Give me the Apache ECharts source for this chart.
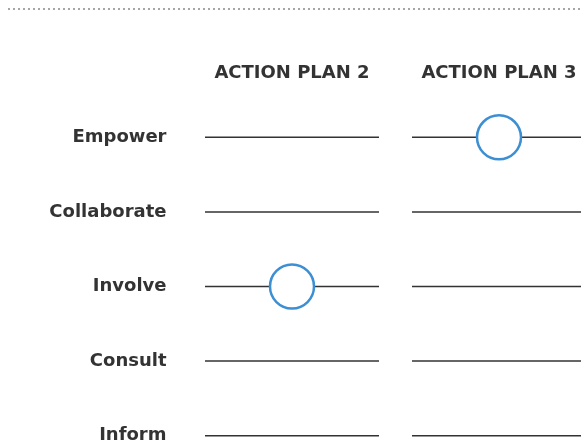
<!DOCTYPE html>
<html>
<head>
<meta charset="utf-8">
<script src="https://cdn.jsdelivr.net/npm/echarts@6/dist/echarts.min.js"></script>
<style>
  html, body { margin: 0; padding: 0; background: #fff; }
  #chart { width: 581px; height: 447px; }
</style>
</head>
<body>
<div id="chart"></div>
<script>
// columns and rows of the grid
const plans = ["ACTION PLAN 2", "ACTION PLAN 3"];
const levels = ["Empower", "Collaborate", "Involve", "Consult", "Inform"];
// chosen level for each plan
const chosen = ["Involve", "Empower"];

const font = "'DejaVu Sans', sans-serif";
const textColor = "#333";

// one track segment for every cell
const tracks = [];
plans.forEach((p) => {
   levels.forEach((l) => tracks.push([p, l]));
});
const marks = plans.map((p, i) => [p, chosen[i]]);

const chart = echarts.init(document.getElementById("chart"));
chart.setOption({
   animation: false,
   graphic: [
      {
         type: "line",
         shape: { x1: 8, y1: 9, x2: 581, y2: 9 },
         style: { stroke: "#a6a6a6", lineWidth: 2, lineDash: [2, 3] },
      },
   ],
   grid: {
      left: 188.5,
      top: 100,
      width: 414,
      height: 373,
      outerBoundsMode: "none",
   },
   xAxis: {
      type: "category",
      position: "top",
      data: plans,
      axisLine: { show: false },
      axisTick: { show: false },
      splitLine: { show: false },
      axisLabel: {
         margin: 18,
         color: textColor,
         fontFamily: font,
         fontWeight: "bold",
         fontSize: 18,
      },
   },
   yAxis: {
      type: "category",
      inverse: true,
      data: levels,
      axisLine: { show: false },
      axisTick: { show: false },
      splitLine: { show: false },
      axisLabel: {
         margin: 22,
         color: textColor,
         fontFamily: font,
         fontWeight: "bold",
         fontSize: 18,
      },
   },
   series: [
      {
         type: "scatter",
         data: tracks,
         symbol: "rect",
         symbolSize: [174, 1.5],
         itemStyle: { color: "#333", opacity: 1 },
         silent: true,
         z: 1,
      },
      {
         type: "scatter",
         data: marks,
         symbol: "circle",
         symbolSize: 44,
         itemStyle: { color: "#fff", borderColor: "#3d8fd3", borderWidth: 2.5, opacity: 1 },
         z: 2,
      },
   ],
});
</script>
</body>
</html>
